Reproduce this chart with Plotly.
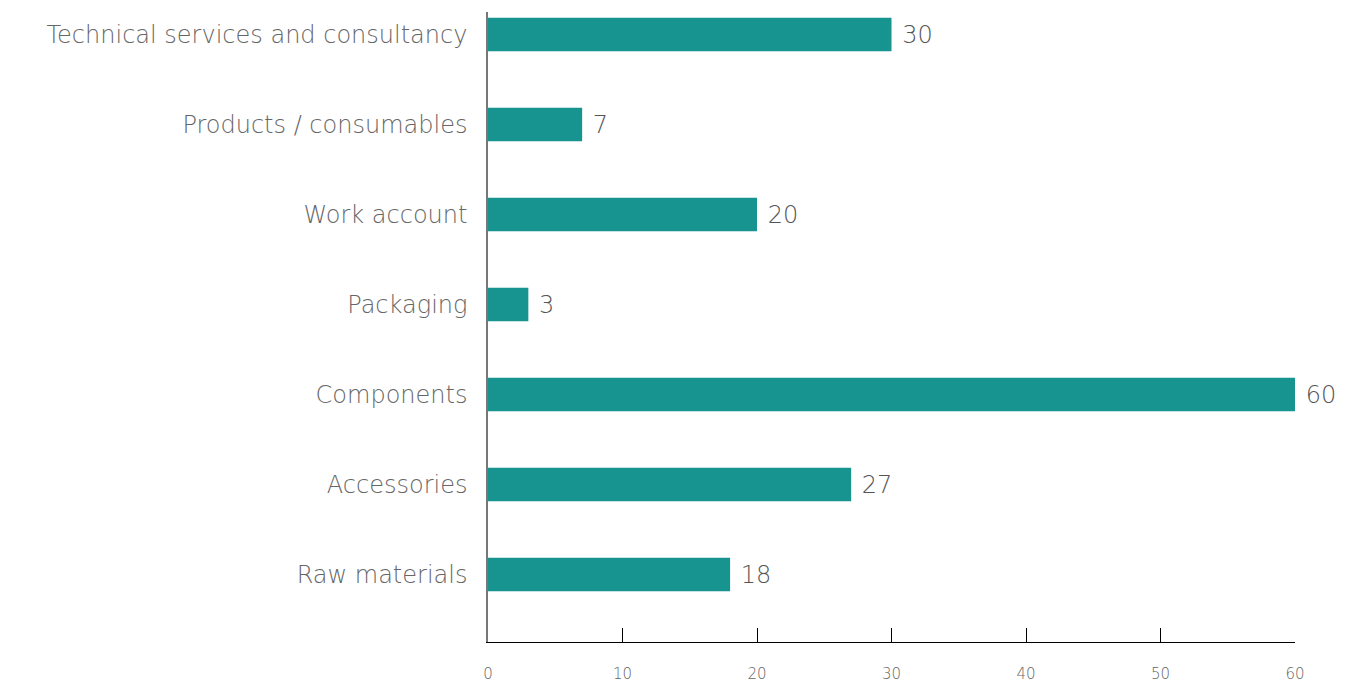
import plotly.graph_objects as go

categories = ["Raw materials", "Accessories", "Components", "Packaging",
              "Work account", "Products / consumables", "Technical services and consultancy"]
values = [18, 27, 60, 3, 20, 7, 30]
x_ticks = [0, 10, 20, 30, 40, 50, 60]

FONT = "DejaVu Sans"

fig = go.Figure(go.Bar(
    x=values, y=categories, orientation="h",
    marker=dict(color="#17948F", line=dict(width=0)),
    width=0.37,
    text=values, texttemplate=" %{x}", textposition="outside",
    textfont=dict(family=FONT, size=24, color="#555555", weight=200),
    cliponaxis=False,
))

fig.update_layout(
    width=1353, height=676,
    margin=dict(l=480, r=66, t=4, b=42, autoexpand=False),
    plot_bgcolor="white", paper_bgcolor="white",
    showlegend=False,
    xaxis=dict(range=[0, 60], tickvals=x_ticks, showgrid=False, zeroline=False,
               showline=True, linecolor="#000000", linewidth=1,
               ticks="inside", ticklen=14, tickcolor="#000000", tickwidth=1,
               ticklabelstandoff=18, automargin=False,
               tickfont=dict(family=FONT, size=15, color="#666666", weight=200)),
    yaxis=dict(range=[-0.75, 6.25], showgrid=False, zeroline=False,
               showline=True, linecolor="#777777", linewidth=1.5,
               ticks="", ticklabelstandoff=14, automargin=False,
               tickfont=dict(family=FONT, size=24, color="#666666", weight=200)),
)

fig.write_html("out.html")
